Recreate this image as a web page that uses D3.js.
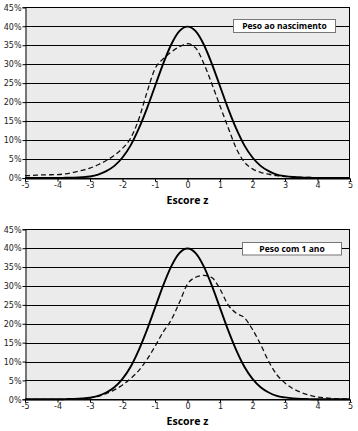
<!DOCTYPE html>
<html>
<head>
<meta charset="utf-8">
<script src="https://cdn.jsdelivr.net/npm/d3@7"></script>
<style>
  body { margin: 0; background: #fff; }
  svg { display: block; }
</style>
</head>
<body>
<div id="chart"></div>
<script>
// z score positions (step 0.25)
var zValues = [-5, -4.75, -4.5, -4.25, -4, -3.75, -3.5, -3.25, -3, -2.75, -2.5, -2.25, -2, -1.75, -1.5, -1.25, -1, -0.75, -0.5, -0.25,
    0, 0.25, 0.5, 0.75, 1, 1.25, 1.5, 1.75, 2, 2.25, 2.5, 2.75, 3, 3.25, 3.5, 3.75, 4, 4.25, 4.5, 4.75, 5];

// reference curve (%), same in both panels
var refCurve = [0, 0, 0, 0, 0, 0.05, 0.1, 0.2, 0.4, 0.9, 1.8, 3.2, 5.4, 8.6, 13, 18.3, 24.2, 30.1, 35.2, 38.7,
    39.9, 38.7, 35.2, 30.1, 24.2, 18.3, 13, 8.6, 5.4, 3.2, 1.8, 0.9, 0.5, 0.25, 0.1, 0.05, 0, 0, 0, 0, 0];

// "Peso ao nascimento" sample (%)
var birthCurve = [0.6, 0.7, 0.8, 0.85, 0.9, 1.1, 1.5, 2, 2.6, 3.5, 4.6, 6, 7.8, 10.5, 15.5, 22.5, 28.8, 31.4, 33.2, 34.6,
    35.4, 34.3, 30.2, 24.8, 19, 13.3, 7.8, 4.2, 2.4, 1.5, 1, 0.6, 0.4, 0.3, 0.2, 0.15, 0.1, 0.05, 0, 0, 0];

// "Peso com 1 ano" sample (%)
var yearCurve = [0, 0, 0, 0, 0, 0, 0.05, 0.15, 0.4, 0.8, 1.5, 2.5, 3.8, 5.5, 7.6, 10.5, 14, 17.8, 21, 25.6,
    30.5, 32.3, 32.8, 32.2, 29.2, 25, 22.8, 21.6, 18.5, 14.5, 10, 6.5, 4.3, 2.8, 1.8, 1.1, 0.6, 0.35, 0.2, 0.1, 0.05];

var xTicks = [-5, -4, -3, -2, -1, 0, 1, 2, 3, 4, 5];
var yTicks = [0, 5, 10, 15, 20, 25, 30, 35, 40, 45];
var xTitle = "Escore z";

var panels = [
    { top: 7.3, bottom: 178, legend: "Peso ao nascimento", series: birthCurve, box: [233, 19, 102, 13] },
    { top: 229.3, bottom: 399.3, legend: "Peso com 1 ano", series: yearCurve, box: [242, 242, 99, 12.5] }
];

var left = 25, right = 350;

var svg = d3.select("#chart")
    .append("svg")
    .attr("width", 358)
    .attr("height", 431);

var x = d3.scaleLinear()
    .domain([-5, 5])
    .range([left, right]);

panels.forEach(function (p) {
    var y = d3.scaleLinear()
        .domain([0, 45])
        .range([p.bottom, p.top]);

    var g = svg.append("g");

    g.append("rect")
        .attr("x", left)
        .attr("y", p.top)
        .attr("width", right - left)
        .attr("height", p.bottom - p.top)
        .attr("fill", "#ebebeb");

    // horizontal grid
    g.selectAll(".grid")
        .data(yTicks)
        .enter()
        .append("line")
        .attr("x1", left)
        .attr("x2", right)
        .attr("y1", function (d) { return Math.round(y(d)) + 0.5; })
        .attr("y2", function (d) { return Math.round(y(d)) + 0.5; })
        .attr("stroke", "#000")
        .attr("stroke-width", 1);

    g.append("line")
        .attr("x1", right - 0.5).attr("x2", right - 0.5)
        .attr("y1", y(45)).attr("y2", y(0))
        .attr("stroke", "#000");

    var yAxis = g.append("g")
        .attr("transform", "translate(" + (left + 0.5) + ",0)")
        .call(d3.axisLeft(y).tickValues(yTicks).tickSize(3).tickPadding(1)
            .tickFormat(function (d) { return d + "%"; }));

    var xAxis = g.append("g")
        .attr("transform", "translate(0," + (Math.round(y(0)) + 0.5) + ")")
        .call(d3.axisBottom(x).tickValues(xTicks).tickSize(3).tickPadding(1)
            .tickFormat(function (d) { return d < 0 ? "-" + Math.abs(d) : d; }));

    [yAxis, xAxis].forEach(function (a) {
        a.select(".domain").attr("stroke", "#000");
        a.selectAll(".tick line").attr("stroke", "#000");
        a.selectAll("text")
            .attr("fill", "#222")
            .style("font-family", "DejaVu Sans")
            .style("font-size", "8px");
    });
    yAxis.selectAll("text").attr("dy", "0.34em");

    var line = d3.line()
        .x(function (d, i) { return x(zValues[i]); })
        .y(function (d) { return y(d); })
        .curve(d3.curveMonotoneX);

    g.append("path")
        .datum(p.series)
        .attr("fill", "none")
        .attr("stroke", "#111")
        .attr("stroke-width", 1.3)
        .attr("stroke-dasharray", "5,3")
        .attr("d", line);

    g.append("path")
        .datum(refCurve)
        .attr("fill", "none")
        .attr("stroke", "#000")
        .attr("stroke-width", 1.9)
        .attr("d", line);

    // legend box
    g.append("rect")
        .attr("x", p.box[0] + 0.5)
        .attr("y", p.box[1] + 0.5)
        .attr("width", p.box[2])
        .attr("height", p.box[3])
        .attr("fill", "#fff")
        .attr("stroke", "#777")
        .attr("stroke-width", 1);

    g.append("text")
        .attr("x", p.box[0] + p.box[2] / 2 + 0.5)
        .attr("y", p.box[1] + p.box[3] / 2 + 3.6)
        .attr("text-anchor", "middle")
        .style("font-family", "Open Sans")
        .style("font-weight", "bold")
        .style("font-size", "8.5px")
        .attr("fill", "#000")
        .text(p.legend);

    g.append("text")
        .attr("x", x(0))
        .attr("y", p.bottom + 26)
        .attr("text-anchor", "middle")
        .style("font-family", "Open Sans")
        .style("font-weight", "bold")
        .style("font-size", "10.5px")
        .attr("fill", "#000")
        .text(xTitle);
});
</script>
</body>
</html>
